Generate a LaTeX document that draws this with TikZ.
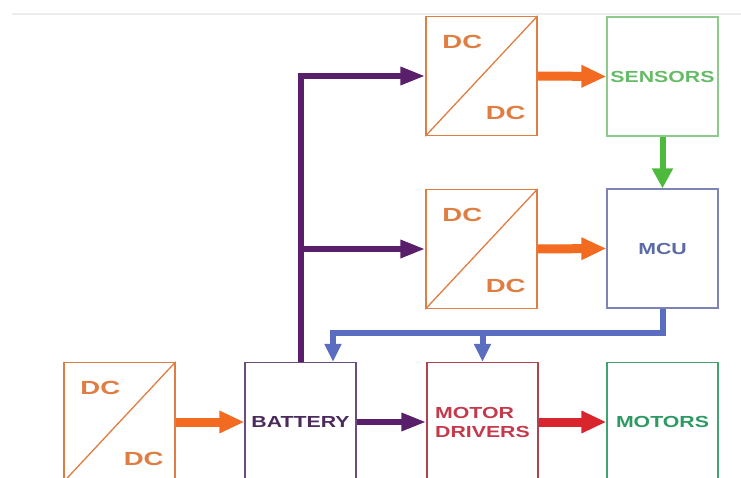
\documentclass[tikz,border=0pt]{standalone}
\usepackage{fontspec}
\setmainfont{Liberation Sans}
\usepackage{graphicx}
\usetikzlibrary{arrows.meta, positioning}

\definecolor{dcorange}{HTML}{E07D42}
\definecolor{feedorange}{HTML}{F26B21}
\definecolor{sensgreen}{HTML}{8CCB8C}
\definecolor{senstext}{HTML}{66BC66}
\definecolor{feedgreen}{HTML}{4DBA3E}
\definecolor{mcublue}{HTML}{7E83B5}
\definecolor{mcutext}{HTML}{5C6AA6}
\definecolor{busblue}{HTML}{5A6DC0}
\definecolor{powpurple}{HTML}{5A1F6B}
\definecolor{batbox}{HTML}{6B4C7E}
\definecolor{battext}{HTML}{4A2B5C}
\definecolor{drvred}{HTML}{B0434F}
\definecolor{drvtext}{HTML}{C43A4C}
\definecolor{feedred}{HTML}{D9262E}
\definecolor{motgreen}{HTML}{3FA46F}
\definecolor{mottext}{HTML}{2E9A63}

\newcommand{\wide}[1]{\scalebox{1.33}[1]{#1}}

\begin{document}
\begin{tikzpicture}[x=1pt, y=-1pt,
  box/.style={draw, line width=1.3pt, minimum width=111pt, minimum height=119pt,
    inner sep=0pt, align=left, font=\bfseries\fontsize{16}{19}\selectfont},
  dcbox/.style={box, draw=dcorange},
  dclabel/.style={text=dcorange, inner sep=0pt, font=\bfseries\fontsize{19}{21}\selectfont},
  power/.style={draw=powpurple, line width=6pt, -{Triangle[length=25pt, width=17pt]}},
  feed/.style={line width=9pt, -{Triangle[length=25pt, width=21pt]}},
  bus/.style={draw=busblue, line width=6pt, -{Triangle[length=18pt, width=16pt]}}]

  \useasboundingbox (0,0) rectangle (741,478);
  \clip (0,0) rectangle (741,478);
  \fill[white] (0,0) rectangle (741,478);

  % faint line at the top
  \draw[black!7, line width=2pt] (12,14) -- (741,14);

  %--------------------------
  % Converters
  %--------------------------
  \node[dcbox] (dc1) at (481.5,76) {};
  \node[dcbox] (dc2) at (481.5,249) {};
  \node[dcbox] (dc3) at (119.5,422) {};

  \foreach \n in {dc1,dc2,dc3} {
    \draw[dcorange, line width=1.3pt] (\n.south west) -- (\n.north east);
    \node[dclabel] (\n-in) at ([xshift=37pt, yshift=-26pt]\n.north west) {\scalebox{1.45}[1]{DC}};
    \node[dclabel] (\n-out) at ([xshift=-32pt, yshift=23pt]\n.south east) {\scalebox{1.45}[1]{DC}};
  }

  %--------------------------
  % Blocks
  %--------------------------
  \node[box, draw=sensgreen, text=senstext] (sens) at (662.5,76.5) {\wide{SENSORS}};
  \node[box, draw=mcublue, text=mcutext] (mcu) at (662.5,248.5) {\wide{MCU}};
  \node[box, draw=batbox, text=battext] (bat) at (300.5,422) {\wide{BATTERY}};
  \node[box, draw=drvred, text=drvtext] (drv) at (482.5,422) {\wide{MOTOR}\\\wide{DRIVERS}};
  \node[box, draw=motgreen, text=mottext] (mot) at (662.5,422) {\wide{MOTORS}};

  %--------------------------
  % Power lines
  %--------------------------
  \coordinate (tap) at (bat.north |- dc2.west);
  \draw[power] (bat.north) |- (dc1.west);
  \draw[power] (tap) -- (dc2.west);
  \draw[power] (bat.east) -- (drv.west);

  \draw[feed, draw=feedorange] (dc1.east) -- (sens.west);
  \draw[feed, draw=feedorange] (dc2.east) -- (mcu.west);
  \draw[feed, draw=feedorange] (dc3.east) -- (bat.west);
  \draw[feed, draw=feedred] (drv.east) -- (mot.west);

  % Signals
  \draw[draw=feedgreen, line width=6pt, -{Triangle[length=20pt, width=20pt]}] (sens.south) -- (mcu.north);
  \coordinate (busL) at (333,333);
  \coordinate (busM) at (drv.north |- busL);
  \draw[bus] (mcu.south) |- (busL) -- (busL |- bat.north);
  \draw[bus] (busM) -- (drv.north);

\end{tikzpicture}
\end{document}
